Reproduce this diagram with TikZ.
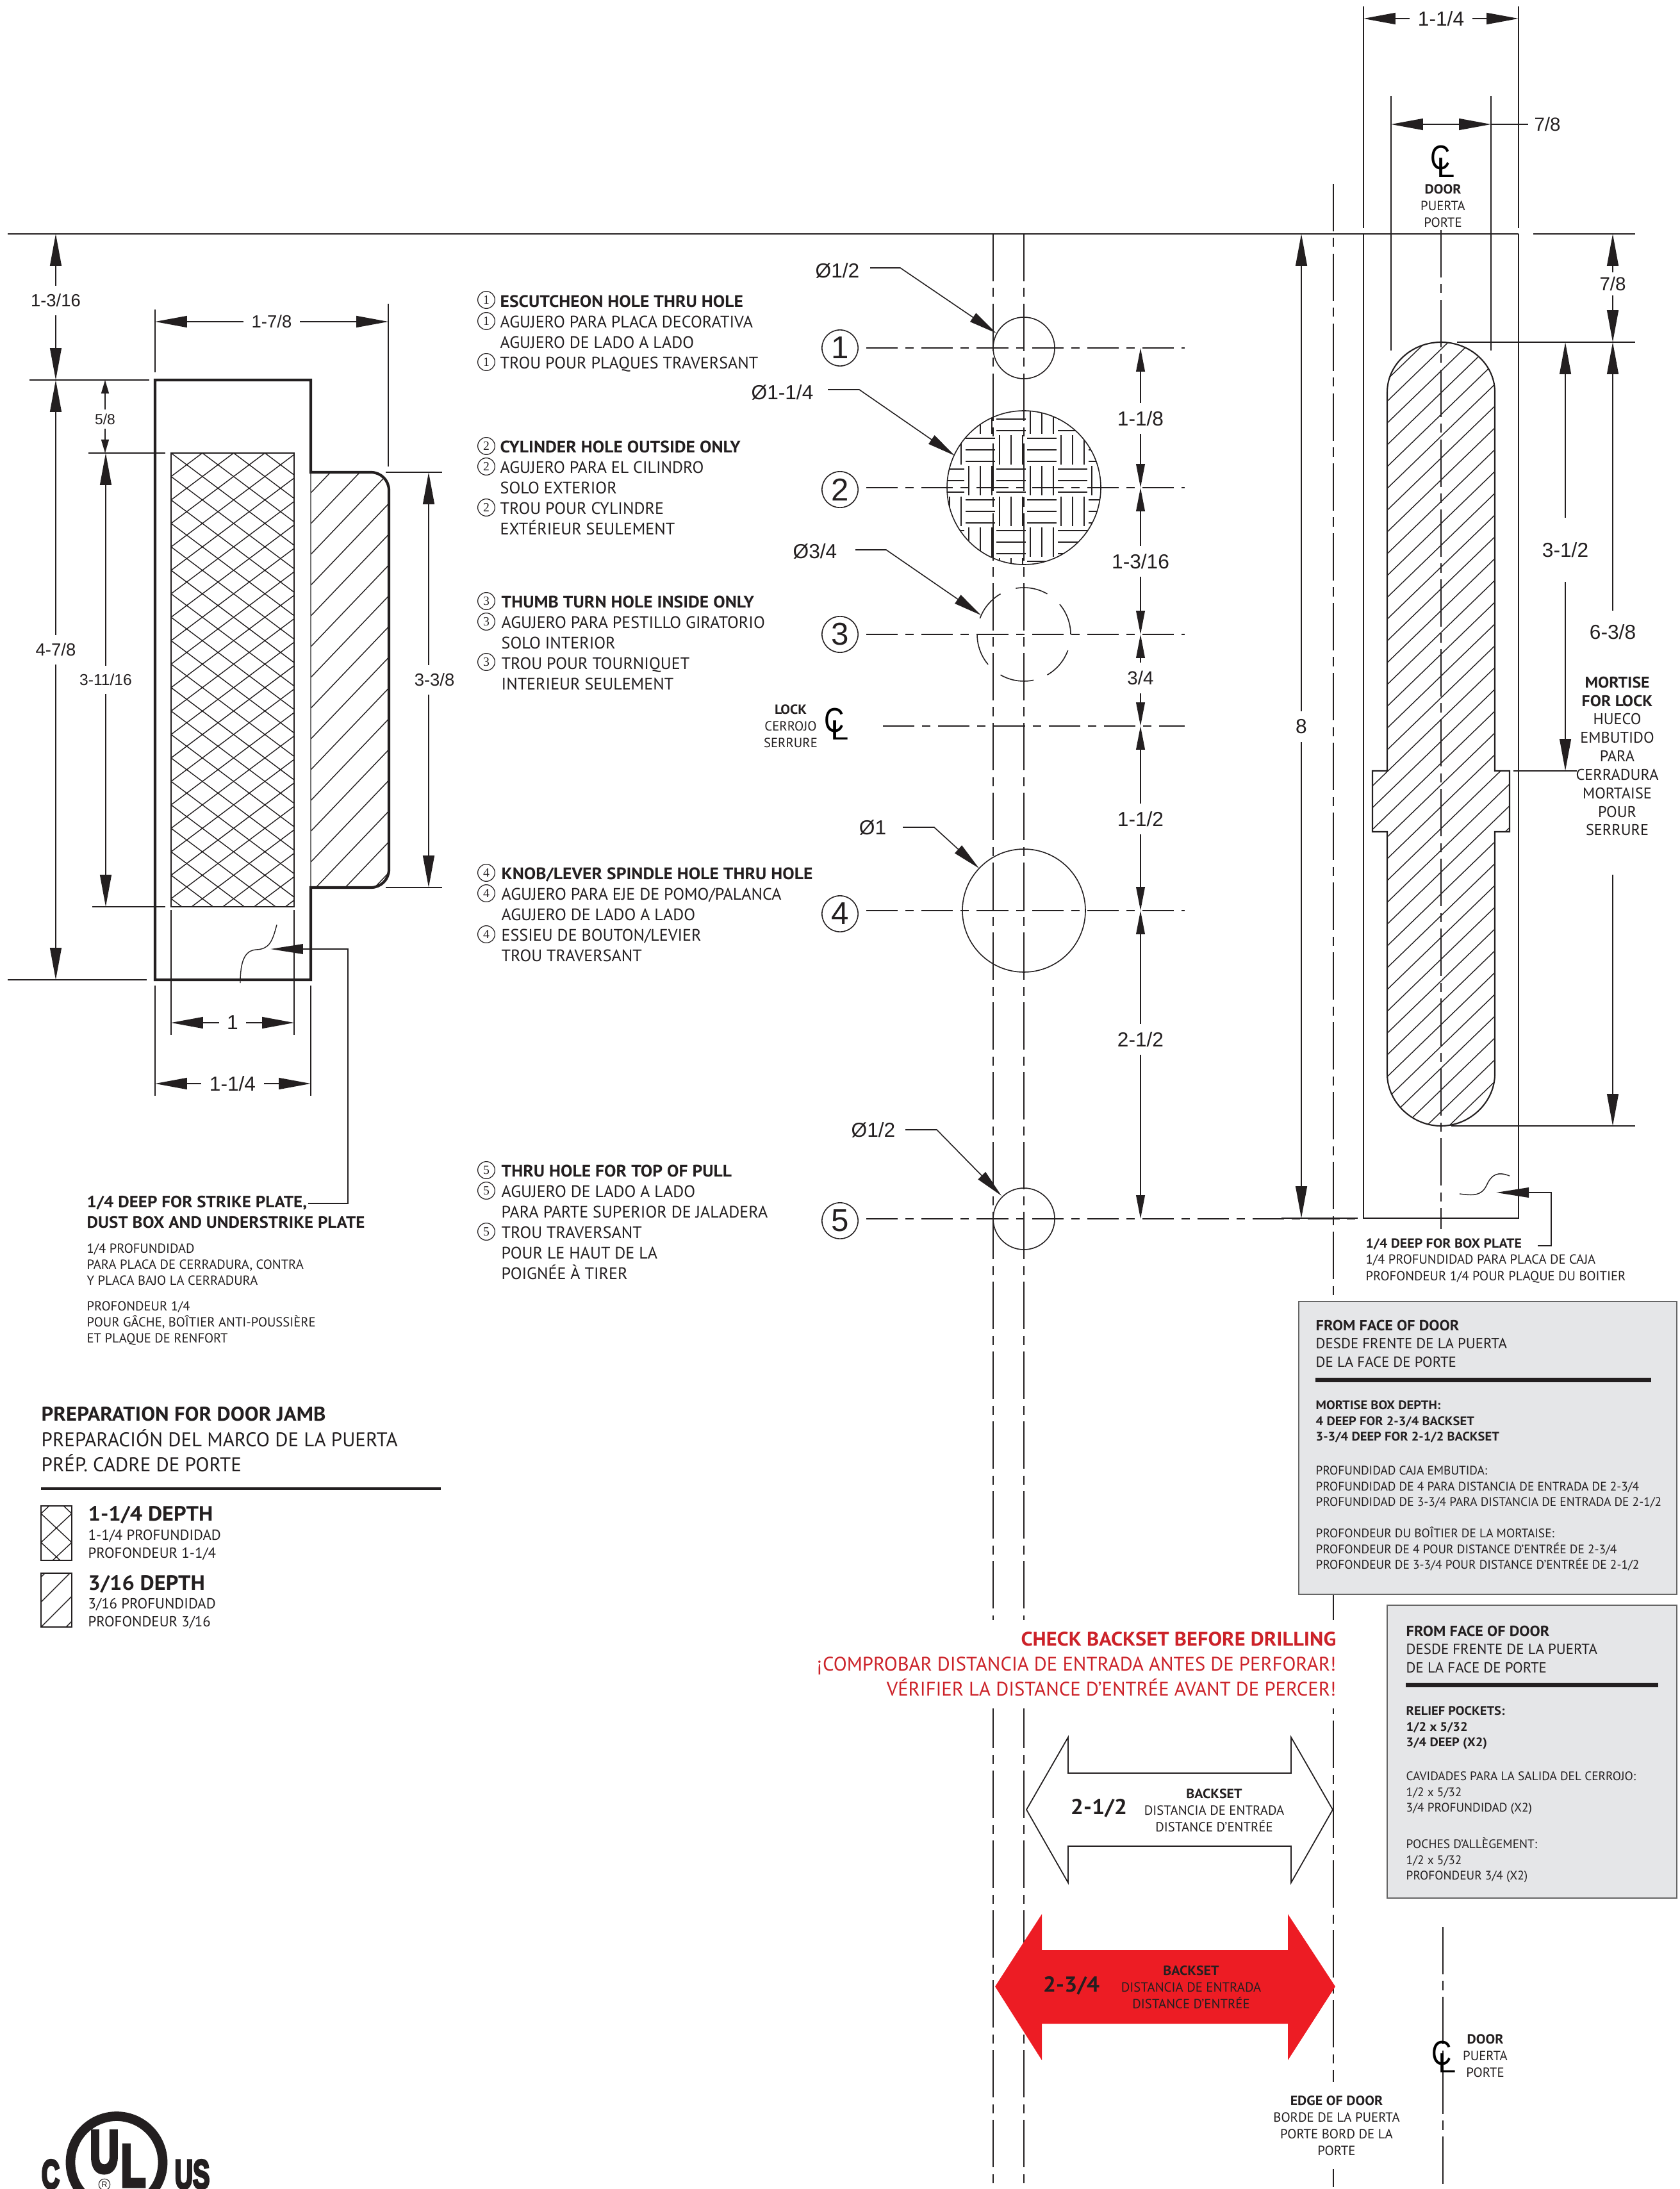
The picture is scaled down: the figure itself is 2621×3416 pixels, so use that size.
\documentclass[tikz,border=0pt]{standalone}
\usepackage{fontspec}
\usepackage{graphicx}
\setmainfont{PT Sans}[BoldFeatures={FakeStretch=1.06}]
\newfontfamily\dimfont{Liberation Sans}
\newfontfamily\tagfont{Liberation Serif}
\newfontfamily\ulfont{Liberation Sans}[BoldFeatures={FakeBold=6}]
\usetikzlibrary{arrows.meta}
\definecolor{inkBlack}{HTML}{231F20}
\definecolor{boxGray}{HTML}{E5E6E8}
\definecolor{warnRed}{HTML}{CC2229}
\definecolor{arrowRed}{HTML}{ED1C24}
\newcommand{\fsz}[2]{\fontsize{#1}{#2}\selectfont}
\newcommand{\clsym}{{\dimfont\fsz{14.5}{14.5}\rlap{\scalebox{.85}[1.05]{C}}\raisebox{-3.4pt}{\kern2.8pt\scalebox{1}[.85]{L}}}}
\tikzset{
  dimline/.style={inkBlack, line width=.45pt, {Triangle[length=14.2pt,width=5.1pt]}-{Triangle[length=14.2pt,width=5.1pt]}},
  middim/.style={inkBlack, line width=.45pt, {Triangle[length=10.5pt,width=3.9pt]}-{Triangle[length=10.5pt,width=3.9pt]}},
  smalldim/.style={inkBlack, line width=.45pt, {Triangle[length=6pt,width=3.4pt]}-{Triangle[length=6pt,width=3.4pt]}},
  leaderline/.style={inkBlack, line width=.45pt, -{Triangle[length=12.5pt,width=4.6pt]}},
  plateleader/.style={inkBlack, line width=.6pt, -{Triangle[length=14.5pt,width=4.4pt]}},
  extline/.style={inkBlack, line width=.45pt},
  hatchline/.style={inkBlack, line width=.4pt},
  hcenter/.style={inkBlack, line width=.45pt, dash pattern=on 14pt off 3.4pt on 3.7pt off 3.4pt},
  vcenter/.style={inkBlack, line width=.5pt, dash pattern=on 21pt off 3pt on 4pt off 3pt},
  dimtext/.style={text=inkBlack, fill=white, inner sep=3.6pt, font=\dimfont\fsz{9}{9}},
  dimsmall/.style={dimtext, font=\dimfont\fsz{7.8}{8}},
  bigring/.style={draw=inkBlack, line width=.45pt, circle, inner sep=0pt, minimum size=16pt, text=inkBlack, font=\dimfont\fsz{14}{14}},
  tagring/.style={draw=inkBlack, line width=.35pt, circle, inner sep=0pt, minimum size=7.6pt, text=inkBlack, font=\tagfont\fsz{5.6}{6}},
  listnote/.style={anchor=north west, inner sep=0pt, align=left, text=inkBlack, font=\fsz{7.4}{9.1}},
  centernote/.style={inner sep=0pt, align=center, text=inkBlack, font=\fsz{5.9}{7.4}},
  graybox/.style={fill=boxGray, draw=black!60, line width=.4pt},
  boxhead/.style={anchor=north west, inner sep=0pt, align=left, text=inkBlack, font=\fsz{6.5}{8.2}},
  boxbody/.style={anchor=north west, inner sep=0pt, align=left, text=inkBlack, font=\fsz{5.5}{7}},
}
\begin{document}
\begin{tikzpicture}[x=.01cm,y=-.01cm]
  \useasboundingbox (0,0) rectangle (2621,3416);

  % Datum lines
  \draw[extline] (12,365) -- (2370,365);
  \draw[extline] (2393,365) -- (2552,365);

  % Door edge and backset centre lines
  \draw[vcenter] (1550,365) -- (1550,3416);
  \draw[vcenter] (1598,365) -- (1598,3416);
  \draw[vcenter] (2081,287) -- (2081,3416);
  \draw[vcenter] (2252,3007) -- (2252,3416);

  % Jamb hatching
  \begin{scope}
    \clip (267,707) rectangle (459,1415);
    \foreach \k in {-6,...,26} {
      \draw[hatchline] (267,707+36.6*\k) -- (459,707+36.6*\k+144);
      \draw[hatchline] (267,707+36.6*\k) -- (459,707+36.6*\k-144);
    }
  \end{scope}
  \draw[hatchline] (267,707) rectangle (459,1415);
  \begin{scope}
    \clip (485,737) [rounded corners=8pt] -- (607,737) -- (607,1385) [sharp corners] -- (485,1385) -- cycle;
    \foreach \k in {-1,...,16}
      \draw[hatchline] (470,737+48*\k) -- (620,737+48*\k-157);
  \end{scope}

  % Jamb outline
  \draw[black!55, line width=.4pt] (485,737) -- (485,1385);
  \draw[inkBlack, line width=1.2pt] (485,737) [rounded corners=8pt] -- (607,737) -- (607,1385) [sharp corners] -- (485,1385) -- (485,1529) -- (242,1529) -- (242,593) -- (485,593) -- cycle;

  % Jamb dimensions
  \draw[extline] (46,593) -- (233,593);
  \draw[extline] (12,1529) -- (229,1529);
  \draw[extline] (138,707) -- (258,707);
  \draw[extline] (144,1415) -- (258,1415);
  \draw[dimline] (87,365) -- (87,593);
  \draw[dimline] (87,593) -- (87,1529);
  \draw[smalldim] (164,593) -- (164,707);
  \draw[dimline] (165,707) -- (165,1415);
  \node[dimsmall] (jambA) at (87,469) {1-3/16};
  \node[dimsmall] (jambB) at (87,1014) {4-7/8};
  \node[dimtext, font=\dimfont\fsz{6.5}{7}, inner sep=2pt] (jambC) at (164,654) {5/8};
  \node[dimtext, font=\dimfont\fsz{7}{7}] (jambD) at (165,1061) {3-11/16};

  \draw[extline] (242,483) -- (242,581);
  \draw[extline] (606,474) -- (606,728);
  \draw[dimline] (242,502) -- (606,502);
  \node[dimsmall] (jambE) at (424,502) {1-7/8};

  \draw[extline] (602,737) -- (690,737);
  \draw[extline] (602,1385) -- (690,1385);
  \draw[dimline] (669,737) -- (669,1385);
  \node[dimsmall] (jambF) at (678,1061) {3-3/8};

  \draw[extline] (267,1420) -- (267,1615);
  \draw[extline] (459,1420) -- (459,1615);
  \draw[extline] (242,1538) -- (242,1710);
  \draw[extline] (485,1538) -- (485,1710);
  \draw[dimline] (267,1596) -- (459,1596);
  \draw[dimline] (242,1691) -- (485,1691);
  \node[dimtext] (jambG) at (363,1596) {1};
  \node[dimtext] (jambH) at (363,1691) {1-1/4};

  % Strike plate callout
  \draw[hatchline] (375,1534) .. controls (375,1500) and (382,1483) .. (400,1482) .. controls (420,1481) and (425,1470) .. (432,1443);
  \draw[plateleader] (481,1878) -- (543,1878) -- (543,1481) -- (422,1481);
  \node[anchor=north west, inner sep=0pt, align=left, text=inkBlack, font=\bfseries\fsz{7.26}{9.1}] (strikeHead) at (135,1866) {1/4 DEEP FOR STRIKE PLATE,\\DUST BOX AND UNDERSTRIKE PLATE};
  \node[anchor=north west, inner sep=0pt, align=left, text=inkBlack, font=\fsz{5.85}{7.1}] (strikeEs) at (135,1940) {1/4 PROFUNDIDAD\\PARA PLACA DE CERRADURA, CONTRA\\Y PLACA BAJO LA CERRADURA};
  \node[anchor=north west, inner sep=0pt, align=left, text=inkBlack, font=\fsz{5.85}{7.1}] (strikeFr) at (135,2030) {PROFONDEUR 1/4\\POUR GÂCHE, BOÎTIER ANTI-POUSSIÈRE\\ET PLAQUE DE RENFORT};

  % Jamb legend
  \node[anchor=north west, inner sep=0pt, align=left, text=inkBlack, font=\fsz{8.8}{11.2}] (jambTitle) at (64,2195) {\textbf{PREPARATION FOR DOOR JAMB}\\PREPARACIÓN DEL MARCO DE LA PUERTA\\PRÉP. CADRE DE PORTE};
  \draw[inkBlack, line width=1.4pt] (64,2323) -- (688,2323);
  \begin{scope}
    \clip (64,2350) rectangle (112,2435);
    \foreach \k in {-2,...,3} {
      \draw[hatchline] (64,2362+45*\k) -- (112,2407+45*\k);
      \draw[hatchline] (64,2362+45*\k) -- (112,2317+45*\k);
    }
  \end{scope}
  \draw[inkBlack, line width=.6pt] (64,2350) rectangle (112,2435);
  \begin{scope}
    \clip (64,2455) rectangle (112,2539);
    \foreach \k in {0,...,3}
      \draw[hatchline] (64,2461+39*\k) -- (112,2413+39*\k);
  \end{scope}
  \draw[inkBlack, line width=.6pt] (64,2455) rectangle (112,2539);
  \node[anchor=north west, inner sep=0pt, text=inkBlack, font=\bfseries\fsz{9.2}{9}] (legendA) at (137,2350) {1-1/4 DEPTH};
  \node[anchor=north west, inner sep=0pt, align=left, text=inkBlack, font=\fsz{6.5}{8}] (legendB) at (137,2386) {1-1/4 PROFUNDIDAD\\PROFONDEUR 1-1/4};
  \node[anchor=north west, inner sep=0pt, text=inkBlack, font=\bfseries\fsz{9.2}{9}] (legendC) at (137,2458) {3/16 DEPTH};
  \node[anchor=north west, inner sep=0pt, align=left, text=inkBlack, font=\fsz{6.5}{8}] (legendD) at (137,2493) {3/16 PROFUNDIDAD\\PROFONDEUR 3/16};

  % UL mark
  \draw[inkBlack, line width=4.2pt] (182,3374.5) circle[radius=72];
  \node[inner sep=0pt, anchor=north, text=inkBlack, xscale=.68, font=\ulfont\bfseries\fsz{26.5}{27}] (ulU) at (163,3325) {U};
  \node[inner sep=0pt, anchor=north, text=inkBlack, xscale=.68, font=\ulfont\bfseries\fsz{26.5}{27}] (ulL) at (208,3347) {L};
  \node[inner sep=0pt, anchor=north, text=inkBlack, xscale=.62, font=\ulfont\bfseries\fsz{18}{18}] (ulC) at (79,3370) {C};
  \node[inner sep=0pt, anchor=north, text=inkBlack, xscale=.62, font=\ulfont\bfseries\fsz{18}{18}] (ulUS) at (300,3370) {US};
  \node[draw=inkBlack, line width=.3pt, circle, inner sep=0pt, minimum size=5pt, fill=white, text=inkBlack, font=\dimfont\fsz{3.6}{4}] (ulR) at (163,3409) {R};

  % Hole notes
  \foreach \y/\n in {468/1,501/1,565/1,696/2,728/2,792/2,938/3,970/3,1033/3,1362/4,1394/4,1458/4,1826/5,1858/5,1922/5}
    \node[tagring] at (759,\y) {\n};
  \node[listnote] (noteA) at (780,460) {\textbf{ESCUTCHEON HOLE THRU HOLE}\\AGUJERO PARA PLACA DECORATIVA\\AGUJERO DE LADO A LADO\\TROU POUR PLAQUES TRAVERSANT};
  \node[listnote] (noteB) at (780,687) {\textbf{CYLINDER HOLE OUTSIDE ONLY}\\AGUJERO PARA EL CILINDRO\\SOLO EXTERIOR\\TROU POUR CYLINDRE\\EXTÉRIEUR SEULEMENT};
  \node[listnote] (noteC) at (782,929) {\textbf{THUMB TURN HOLE INSIDE ONLY}\\AGUJERO PARA PESTILLO GIRATORIO\\SOLO INTERIOR\\TROU POUR TOURNIQUET\\INTERIEUR SEULEMENT};
  \node[listnote] (noteD) at (782,1353) {\textbf{KNOB/LEVER SPINDLE HOLE THRU HOLE}\\AGUJERO PARA EJE DE POMO/PALANCA\\AGUJERO DE LADO A LADO\\ESSIEU DE BOUTON/LEVIER\\TROU TRAVERSANT};
  \node[listnote] (noteE) at (782,1817) {\textbf{THRU HOLE FOR TOP OF PULL}\\AGUJERO DE LADO A LADO\\PARA PARTE SUPERIOR DE JALADERA\\TROU TRAVERSANT\\POUR LE HAUT DE LA\\POIGNÉE À TIRER};

  % Hole centre lines
  \draw[hcenter] (1352,543) -- (1849,543);
  \draw[hcenter] (1352,761) -- (1849,761);
  \draw[hcenter] (1352,990) -- (1849,990);
  \draw[hcenter] (1378,1133) -- (1849,1133);
  \draw[hcenter] (1352,1421) -- (1849,1421);
  \draw[hcenter] (1352,1902) -- (2119,1902);

  % Holes
  \draw[extline] (1598,543) circle[radius=48];
  \begin{scope}
    \clip (1598,761) circle[radius=120];
    \foreach \i in {-3,...,3} \foreach \j in {-3,...,3} {
      \pgfmathsetmacro{\cx}{1578+48*\i}
      \pgfmathsetmacro{\cy}{750+48*\j}
      \pgfmathparse{int(mod(\i+\j+20,2))}
      \ifnum\pgfmathresult=0
        \foreach \d in {-18,0,18} \draw[hatchline] (\cx-23,\cy+\d) -- (\cx+23,\cy+\d);
      \else
        \foreach \d in {-18,0,18} \draw[hatchline] (\cx+\d,\cy-23) -- (\cx+\d,\cy+23);
      \fi
    }
  \end{scope}
  \draw[extline] (1598,761) circle[radius=120];
  \foreach \a/\b in {160/120,100/60,40/0,-20/-60,-78/-120,-140/-180}
    \draw[extline] plot[domain=\a:\b,samples=12] ({1598+73*cos(\x)},{990-73*sin(\x)});
  \draw[extline] (1598,1421) circle[radius=96];
  \draw[extline] (1598,1902) circle[radius=48];

  % Hole numbers
  \node[bigring] (holeA) at (1311,543) {1};
  \node[bigring] (holeB) at (1311,764) {2};
  \node[bigring] (holeC) at (1311,990) {3};
  \node[bigring] (holeD) at (1311,1426) {4};
  \node[bigring] (holeE) at (1311,1905) {5};

  % Diameter leaders
  \node[dimtext, fill=none, inner sep=0pt] (diaA) at (1307,422) {Ø1/2};
  \node[dimtext, fill=none, inner sep=0pt] (diaB) at (1221,612) {Ø1-1/4};
  \node[dimtext, fill=none, inner sep=0pt] (diaC) at (1272,860) {Ø3/4};
  \node[dimtext, fill=none, inner sep=0pt] (diaD) at (1362,1292) {Ø1};
  \node[dimtext, fill=none, inner sep=0pt] (diaE) at (1363,1763) {Ø1/2};
  \draw[leaderline] (1358,418) -- (1405,418) -- (1555,520);
  \draw[leaderline] (1292,608) -- (1341,608) -- (1490,711);
  \draw[leaderline] (1335,858) -- (1383,858) -- (1531,960);
  \draw[leaderline] (1409,1291) -- (1458,1291) -- (1528,1355);
  \draw[leaderline] (1413,1763) -- (1462,1763) -- (1563,1866);

  % Hole spacing dimensions
  \foreach \ya/\yb in {543/761,761/990,990/1133,1133/1421,1421/1902}
    \draw[middim] (1780,\ya) -- (1780,\yb);
  \node[dimtext] (spaceA) at (1780,653) {1-1/8};
  \node[dimtext] (spaceB) at (1780,876) {1-3/16};
  \node[dimtext, font=\dimfont\fsz{8.4}{9}] (spaceC) at (1780,1058) {3/4};
  \node[dimtext] (spaceD) at (1780,1278) {1-1/2};
  \node[dimtext] (spaceE) at (1780,1622) {2-1/2};

  % Lock centre
  \node[inner sep=0pt] (lockCL) at (1306,1130) {\clsym};
  \node[centernote] (lockText) at (1234,1133) {\textbf{LOCK}\\CERROJO\\SERRURE};

  % Door edge view
  \draw[extline, line width=.7pt] (2128,10) -- (2128,356);
  \draw[extline, line width=.7pt] (2370,10) -- (2370,356);
  \draw[extline, line width=.7pt] (2128,365) -- (2128,1901) -- (2370,1901) -- (2370,365);
  \draw[extline] (2000,1901) -- (2119,1901);
  \draw[dimline] (2128,29) -- (2370,29);
  \node[dimtext] (doorA) at (2249,29) {1-1/4};
  \draw[extline, line width=.7pt] (2171,150) -- (2171,547);
  \draw[extline, line width=.7pt] (2327,150) -- (2327,547);
  \draw[dimline] (2171,194) -- (2327,194);
  \draw[extline] (2327,194) -- (2385,194);
  \node[dimsmall, fill=none, inner sep=0pt, font=\dimfont\fsz{8.4}{9}] (doorB) at (2415,194) {7/8};

  % Mortise
  \newcommand{\mortisepath}{(2165,612) .. controls (2165,569) and (2203,534) .. (2249,534) .. controls (2295,534) and (2333,569) .. (2333,612) -- (2333,1203) -- (2356,1203) -- (2356,1298) -- (2333,1298) -- (2333,1676) .. controls (2333,1719) and (2295,1757) .. (2249,1757) .. controls (2203,1757) and (2165,1719) .. (2165,1676) -- (2165,1298) -- (2142,1298) -- (2142,1203) -- (2165,1203) -- cycle}
  \begin{scope}
    \clip \mortisepath;
    \foreach \k in {-1,...,40}
      \draw[hatchline] (2130,660+34*\k) -- (2370,428+34*\k);
  \end{scope}
  \draw[extline, line width=.6pt] \mortisepath;
  \draw[vcenter] (2249,359) -- (2249,1918);

  % Door centre label
  \node[inner sep=0pt] (doorCL) at (2252,252) {\clsym};
  \node[centernote] (doorText) at (2252,321) {\textbf{DOOR}\\PUERTA\\PORTE};

  % Mortise dimensions
  \draw[extline] (2274,534) -- (2552,534);
  \draw[extline] (2362,1203) -- (2461,1203);
  \draw[extline] (2265,1757) -- (2552,1757);
  \draw[dimline] (2517,365) -- (2517,534);
  \node[dimtext, font=\dimfont\fsz{8.4}{9}, inner sep=2pt] (doorC) at (2517,443) {7/8};
  \draw[dimline] (2443,534) -- (2443,1203);
  \node[dimtext, inner ysep=11pt] (doorD) at (2443,858) {3-1/2};
  \draw[extline, {Triangle[length=14.2pt,width=5.1pt]}-] (2517,534) -- (2517,953);
  \draw[extline, -{Triangle[length=14.2pt,width=5.1pt]}] (2517,1365) -- (2517,1757);
  \node[dimtext, fill=none, inner sep=0pt] (doorE) at (2517,986) {6-3/8};
  \node[inner sep=0pt, align=center, text=inkBlack, font=\fsz{6.9}{8.2}] (mortiseText) at (2524,1180) {\textbf{MORTISE}\\\textbf{FOR LOCK}\\HUECO\\EMBUTIDO\\PARA\\CERRADURA\\MORTAISE\\POUR\\SERRURE};
  \draw[dimline] (2031,365) -- (2031,1901);
  \node[dimtext] (doorF) at (2031,1134) {8};

  % Box plate callout
  \draw[hatchline] (2278,1863) .. controls (2300,1866) and (2312,1866) .. (2320,1850) .. controls (2328,1832) and (2338,1828) .. (2356,1835);
  \draw[plateleader] (2400,1944) -- (2421,1944) -- (2421,1861) -- (2335,1861);
  \node[anchor=north west, inner sep=0pt, align=left, text=inkBlack, font=\fsz{5.85}{7.25}] (boxPlate) at (2131,1932) {\textbf{1/4 DEEP FOR BOX PLATE}\\1/4 PROFUNDIDAD PARA PLACA DE CAJA\\PROFONDEUR 1/4 POUR PLAQUE DU BOITIER};

  % Note boxes
  \draw[graybox] (2027,2031) rectangle (2617,2488);
  \node[boxhead] (depthHead) at (2053,2059) {\textbf{FROM FACE OF DOOR}\\DESDE FRENTE DE LA PUERTA\\DE LA FACE DE PORTE};
  \draw[inkBlack, line width=2pt] (2053,2153) -- (2577,2153);
  \node[boxbody] (depthA) at (2053,2185) {\textbf{MORTISE BOX DEPTH:}\\\textbf{4 DEEP FOR 2-3/4 BACKSET}\\\textbf{3-3/4 DEEP FOR 2-1/2 BACKSET}};
  \node[boxbody] (depthB) at (2053,2287) {PROFUNDIDAD CAJA EMBUTIDA:\\PROFUNDIDAD DE 4 PARA DISTANCIA DE ENTRADA DE 2-3/4\\PROFUNDIDAD DE 3-3/4 PARA DISTANCIA DE ENTRADA DE 2-1/2};
  \node[boxbody] (depthC) at (2053,2382) {PROFONDEUR DU BOÎTIER DE LA MORTAISE:\\PROFONDEUR DE 4 POUR DISTANCE D’ENTRÉE DE 2-3/4\\PROFONDEUR DE 3-3/4 POUR DISTANCE D’ENTRÉE DE 2-1/2};

  \draw[graybox] (2165,2505) rectangle (2617,2962);
  \node[boxhead] (reliefHead) at (2194,2536) {\textbf{FROM FACE OF DOOR}\\DESDE FRENTE DE LA PUERTA\\DE LA FACE DE PORTE};
  \draw[inkBlack, line width=2pt] (2194,2629) -- (2588,2629);
  \node[boxbody] (reliefA) at (2194,2662) {\textbf{RELIEF POCKETS:}\\\textbf{1/2 x 5/32}\\\textbf{3/4 DEEP (X2)}};
  \node[boxbody] (reliefB) at (2194,2764) {CAVIDADES PARA LA SALIDA DEL CERROJO:\\1/2 x 5/32\\3/4 PROFUNDIDAD (X2)};
  \node[boxbody] (reliefC) at (2194,2867) {POCHES D’ALLÈGEMENT:\\1/2 x 5/32\\PROFONDEUR 3/4 (X2)};

  % Backset warning
  \node[anchor=north east, fill=white, inner xsep=2pt, inner ysep=5.5pt, align=right, text=warnRed, font=\fsz{8.7}{11}] (warnText) at (2093,2527) {\textbf{CHECK BACKSET BEFORE DRILLING}\\¡COMPROBAR DISTANCIA DE ENTRADA ANTES DE PERFORAR!\\VÉRIFIER LA DISTANCE D’ENTRÉE AVANT DE PERCER!};

  % Backset arrows
  \draw[draw=inkBlack, fill=white, line width=.5pt] (1602,2824) -- (1667,2711) -- (1667,2767) -- (2015,2767) -- (2015,2711) -- (2080,2824) -- (2015,2938) -- (2015,2881) -- (1667,2881) -- (1667,2938) -- cycle;
  \node[inner sep=0pt, text=inkBlack, font=\bfseries\fsz{9.6}{11}] (backA) at (1715,2822) {2-1/2};
  \node[centernote] (backAText) at (1895,2825) {\textbf{BACKSET}\\DISTANCIA DE ENTRADA\\DISTANCE D’ENTRÉE};
  \fill[arrowRed] (1553,3100) -- (1626,2987) -- (1626,3043) -- (2010,3043) -- (2010,2987) -- (2084,3100) -- (2010,3215) -- (2010,3158) -- (1626,3158) -- (1626,3215) -- cycle;
  \node[inner sep=0pt, text=inkBlack, font=\bfseries\fsz{9.6}{11}] (backB) at (1672,3099) {2-3/4};
  \node[centernote] (backBText) at (1859,3101) {\textbf{BACKSET}\\DISTANCIA DE ENTRADA\\DISTANCE D’ENTRÉE};

  % Lower labels
  \node[inner sep=0pt] (lowerCL) at (2254,3210) {\clsym};
  \node[centernote] (lowerText) at (2318,3208) {\textbf{DOOR}\\PUERTA\\PORTE};
  \node[centernote, fill=white, inner xsep=2pt, inner ysep=6pt] (edgeText) at (2086,3317) {\textbf{EDGE OF DOOR}\\BORDE DE LA PUERTA\\PORTE BORD DE LA\\PORTE};
\end{tikzpicture}
\end{document}
